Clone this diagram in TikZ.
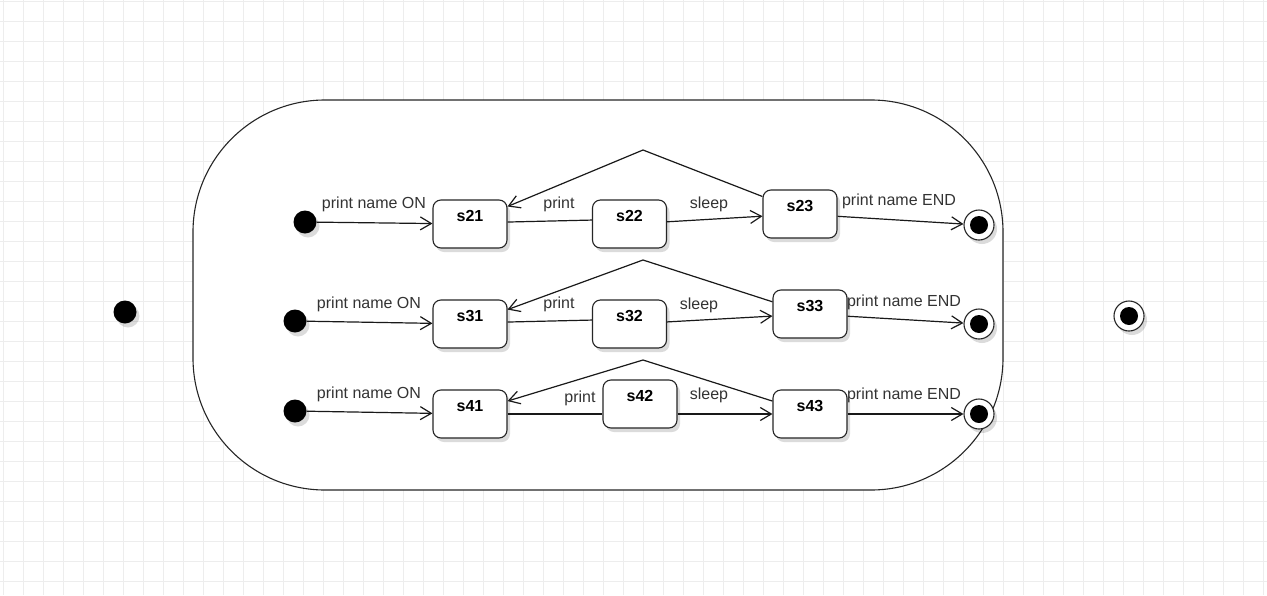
\documentclass[tikz,border=0pt]{standalone}
\usepackage{fontspec}
\setmainfont{Liberation Sans}
\usetikzlibrary{arrows.meta,shadows,calc}

\begin{document}
\begin{tikzpicture}[x=1pt,y=-1pt,>={Straight Barb[length=11pt,width=13pt]},
  font=\fontsize{16}{19}\selectfont,
  gridline/.style={draw=black!7,line width=.8pt},
  dshadow/.style={drop shadow={shadow xshift=3pt,shadow yshift=-4pt,opacity=.14,fill=black}},
  compstate/.style={draw=black!85,fill=white,line width=1.1pt,rounded corners=132pt,
    minimum width=810pt,minimum height=390pt,inner sep=0pt},
  state/.style={draw=black!85,fill=white,line width=1.1pt,rounded corners=8pt,
    minimum width=74pt,minimum height=48pt,inner sep=0pt,font=\fontsize{16}{19}\selectfont\bfseries,
    text height=12pt,text depth=17pt,dshadow},
  initdot/.style={circle,fill=black,minimum size=23pt,inner sep=0pt,dshadow},
  finaldot/.style={circle,draw=black!85,fill=white,line width=1.1pt,minimum size=30pt,inner sep=0pt,dshadow,
    path picture={\fill[black] (path picture bounding box.center) circle (9pt);}},
  trans/.style={line width=1.2pt,black!90},
  elab/.style={anchor=base,inner sep=0pt,text=black!80}]
\useasboundingbox (0,0) rectangle (1267,595);
% background grid
\foreach \gx in {3,23,...,1263} \draw[gridline] (\gx,0) -- (\gx,595);
\foreach \gy in {1,21,...,595} \draw[gridline] (0,\gy) -- (1267,\gy);

\node[compstate] (comp) at (598,295) {};
\node[initdot] (i1) at (125,312) {};
\node[finaldot] (f1) at (1129,316) {};

% first row
\node[initdot] (i2) at (305,222) {};
\node[state] (s21) at (470,224) {s21};
\node[state] (s22) at (629.5,224) {s22};
\node[state] (s23) at (800,214) {s23};
\node[finaldot] (f2) at (979,225) {};
\coordinate (t2) at (643,150);
\draw[trans,->] (i2) -- (s21);
\draw[trans] (s21.3) -- (s22.174);
\draw[trans,->] (s22) -- (s23);
\draw[trans,->] (s23) -- (f2);
\draw[trans,->] (s23.155) -- (t2) -- (s21.25);
\node[elab] (on2) at (374,208) {print name ON};
\node[elab] (pr2) at (559,208) {print};
\node[elab] (sl2) at (709,208) {sleep};
\node[elab] (end2) at (899,205) {print name END};

% second row
\node[initdot] (i3) at (295,321) {};
\node[state] (s31) at (470,324) {s31};
\node[state] (s32) at (629.5,324) {s32};
\node[state] (s33) at (810,314) {s33};
\node[finaldot] (f3) at (979,324) {};
\coordinate (t3) at (643,260);
\draw[trans,->] (i3) -- (s31);
\draw[trans] (s31.3) -- (s32.174);
\draw[trans,->] (s32) -- (s33);
\draw[trans,->] (s33) -- (f3);
\draw[trans,->] (s33.162) -- (t3) -- (s31.21);
\node[elab] (on3) at (369,308) {print name ON};
\node[elab] (pr3) at (559,308) {print};
\node[elab] (sl3) at (699,309) {sleep};
\node[elab] (end3) at (904,306) {print name END};

% third row
\node[initdot] (i4) at (295,411) {};
\node[state] (s41) at (470,414) {s41};
\node[state] (s42) at (640,404) {s42};
\node[state] (s43) at (810,414) {s43};
\node[finaldot] (f4) at (979,414) {};
\coordinate (t4) at (643,360);
\draw[trans,->] (i4) -- (s41);
\draw[trans] (s41.east) -- (s41.east -| s42.west);
\draw[trans,->] (s43.west -| s42.east) -- (s43.west);
\draw[trans,->] (s43) -- (f4);
\draw[trans,->] (s43.161) -- (t4) -- (s41.19);
\node[elab] (on4) at (369,398) {print name ON};
\node[elab] (pr4) at (580,402) {print};
\node[elab] (sl4) at (709,399) {sleep};
\node[elab] (end4) at (904,399) {print name END};
\end{tikzpicture}
\end{document}
